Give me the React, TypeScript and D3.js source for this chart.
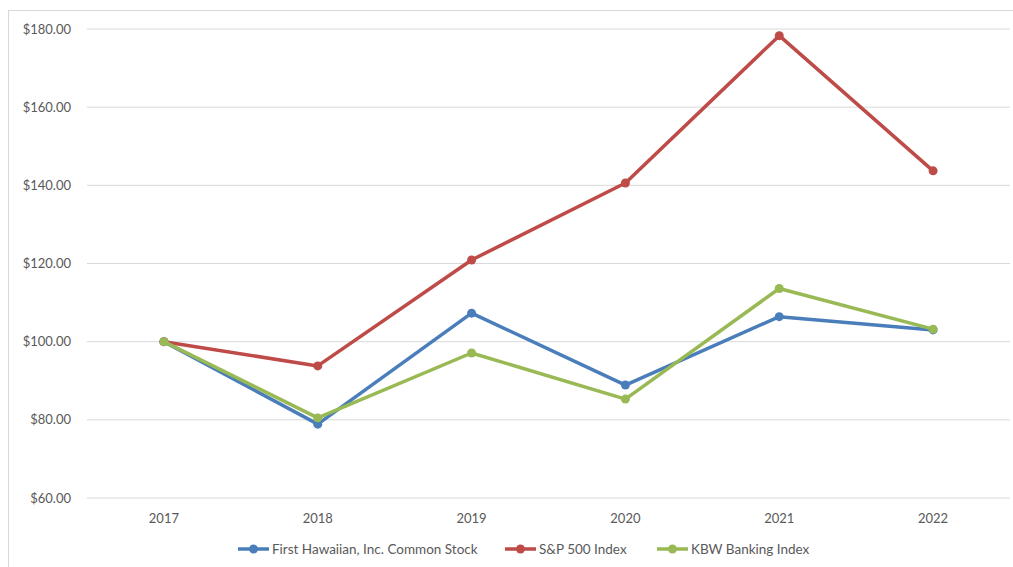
import React from "react";
import * as d3 from "d3";

const years = ["2017", "2018", "2019", "2020", "2021", "2022"];
const firstHawaiian = [100, 78.9, 107.3, 88.9, 106.4, 103.0];
const sp500 = [100, 93.8, 120.9, 140.6, 178.3, 143.7];
const kbw = [100, 80.5, 97.1, 85.3, 113.6, 103.2];
const yTicks = [60, 80, 100, 120, 140, 160, 180];

const seriesNames = ["First Hawaiian, Inc. Common Stock", "S&P 500 Index", "KBW Banking Index"];
const seriesColors = ["#4A7EBB", "#BE4B48", "#98B954"];

const W = 1013;
const H = 567;
const FONT = "Lato, 'Liberation Sans', sans-serif";

export default function App() {
  const x = d3.scaleBand<string>().domain(years).range([87, 1010]);
  const y = d3.scaleLinear().domain([60, 180]).range([498, 29]);
  const cx = (yr: string) => (x(yr) as number) + x.bandwidth() / 2;
  const line = d3
    .line<number>()
    .x((_, i) => cx(years[i]))
    .y((d) => y(d));
  const all = [firstHawaiian, sp500, kbw];
  const legendX = [238, 505, 657];

  return (
    <svg
      width={W}
      height={H}
      style={{ position: "absolute", left: 0, top: 0, background: "#fff" }}
      fontFamily={FONT}
    >
      <rect x={8.5} y={10.5} width={1100} height={700} fill="#fff" stroke="#d9d9d9" strokeWidth={1} />
      {yTicks.map((t) => (
        <g key={t}>
          <line x1={87} x2={1010} y1={y(t)} y2={y(t)} stroke="#d9d9d9" strokeWidth={1} />
          <text x={71} y={y(t)} dy="0.35em" textAnchor="end" fontSize={13} fill="#595959">
            {d3.format("$,.2f")(t)}
          </text>
        </g>
      ))}
      {years.map((yr) => (
        <text key={yr} x={cx(yr)} y={518} dy="0.35em" textAnchor="middle" fontSize={13} fill="#595959">
          {yr}
        </text>
      ))}
      {all.map((s, si) => (
        <g key={si}>
          <path d={line(s) || ""} fill="none" stroke={seriesColors[si]} strokeWidth={3.5} strokeLinejoin="round" />
          {s.map((v, i) => (
            <circle key={i} cx={cx(years[i])} cy={y(v)} r={4.5} fill={seriesColors[si]} />
          ))}
        </g>
      ))}
      {seriesNames.map((n, i) => (
        <g key={n}>
          <line x1={legendX[i]} x2={legendX[i] + 31} y1={549} y2={549} stroke={seriesColors[i]} strokeWidth={3.5} />
          <circle cx={legendX[i] + 15.5} cy={549} r={4.5} fill={seriesColors[i]} />
          <text x={legendX[i] + 34} y={549} dy="0.35em" fontSize={13.5} fill="#595959">
            {n}
          </text>
        </g>
      ))}
    </svg>
  );
}
